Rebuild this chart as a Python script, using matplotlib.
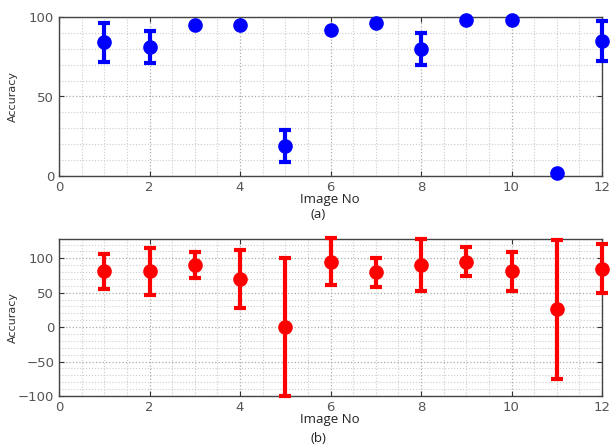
import matplotlib
matplotlib.use('Agg')
import matplotlib.pyplot as plt
from matplotlib.ticker import MultipleLocator

# data
image_no = [1, 2, 3, 4, 5, 6, 7, 8, 9, 10, 11, 12]
acc_a = [84, 81, 95, 95, 19, 92, 96, 80, 98, 98, 2, 85]
err_a = [12.5, 10, 0, 0, 10, 0, 0, 10, 0, 0, 0, 12.5]
acc_b = [81, 81, 90, 70, 0, 95, 80, 90, 95, 81, 26, 85]
err_b = [25, 34, 19, 42, 100, 34, 21, 38, 21, 28, 101, 36]

plt.rcParams['font.family'] = ['DejaVu Sans']
grey = '#555555'

fig = plt.figure(figsize=(6.1, 4.47), dpi=100)
ax1 = fig.add_axes([59 / 610, 1 - 176 / 447, 543 / 610, 159 / 447])
ax2 = fig.add_axes([59 / 610, 1 - 396 / 447, 543 / 610, 157 / 447])


def draw(ax, y, e, color, ylim, major):
    ax.errorbar(image_no, y, yerr=e, fmt='o', color=color, markersize=9.5,
                elinewidth=3, capsize=4.5, capthick=3, clip_on=False, zorder=3)
    ax.set_xlim(0, 12)
    ax.set_ylim(*ylim)
    ax.xaxis.set_major_locator(MultipleLocator(2))
    ax.xaxis.set_minor_locator(MultipleLocator(0.5))
    ax.yaxis.set_major_locator(MultipleLocator(major))
    ax.yaxis.set_minor_locator(MultipleLocator(10))
    ax.grid(True, which='major', linestyle=':', color='#aaaaaa', linewidth=0.9)
    ax.grid(True, which='minor', linestyle=':', color='#cccccc', linewidth=0.8)
    ax.tick_params(which='both', direction='in', top=True, right=True,
                   labelsize=9.5, labelcolor=grey, color='#333333')
    ax.tick_params(which='minor', length=0)
    for s in ax.spines.values():
        s.set_color('#444444')
        s.set_linewidth(1.0)
    ax.set_ylabel('Accuracy', fontsize=8, color='#333333')


draw(ax1, acc_a, err_a, '#0000ff', (0, 100), 50)
draw(ax2, acc_b, err_b, '#ff0000', (-100, 128), 50)
ax1.yaxis.set_label_coords(-0.075, 0.5)
ax2.yaxis.set_label_coords(-0.075, 0.5)

lab = dict(ha='center', va='center', fontsize=9.5, color='#222222',
           family=['Open Sans', 'DejaVu Sans'])
fig.text(330 / 610, 1 - 199 / 447, 'Image No', **lab)
fig.text(318 / 610, 1 - 215 / 447, '(a)', **lab)
fig.text(330 / 610, 1 - 420 / 447, 'Image No', **lab)
fig.text(318 / 610, 1 - 438 / 447, '(b)', **lab)

fig.savefig('out.png', dpi=100)
